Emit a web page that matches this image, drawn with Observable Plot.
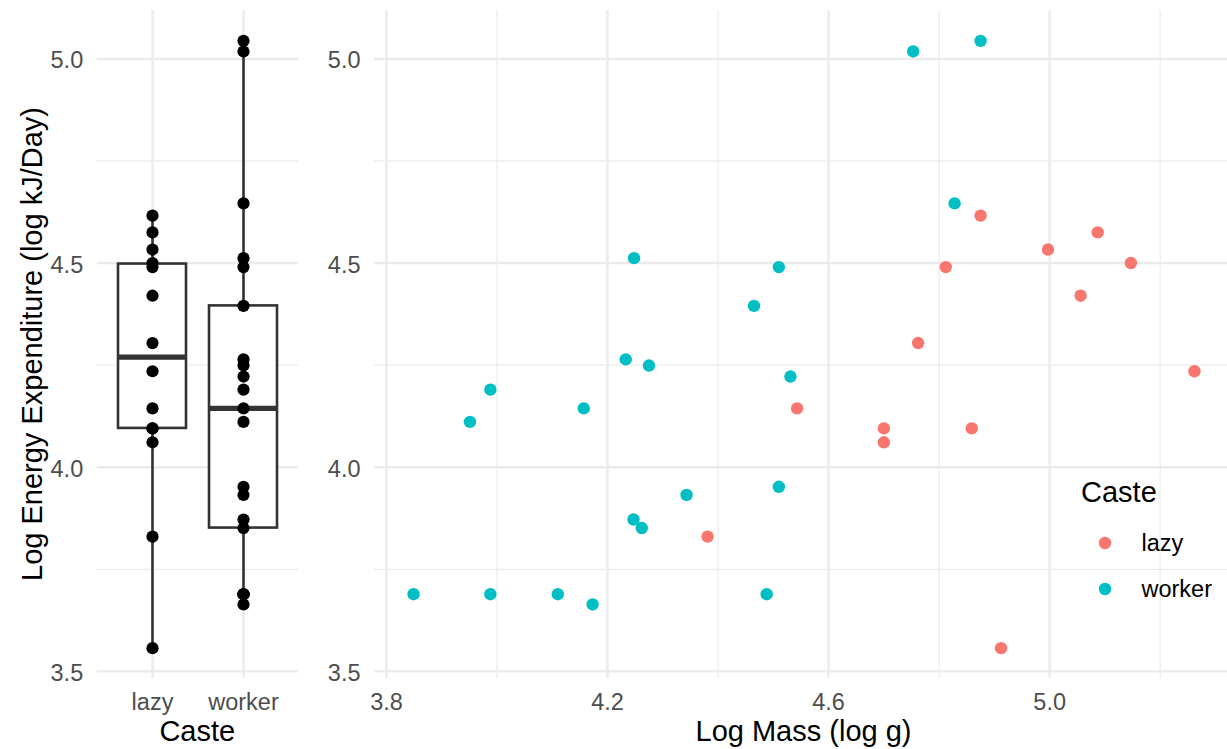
<!DOCTYPE html>
<html><head><meta charset="utf-8">
<script src="https://cdn.jsdelivr.net/npm/d3@7"></script>
<script src="https://cdn.jsdelivr.net/npm/@observablehq/plot@0.6"></script>
<style>
html,body{margin:0;padding:0;background:#fff;overflow:hidden}
#wrap{position:relative;width:1227px;height:749px;overflow:hidden;font-family:"Liberation Sans",Arial,sans-serif;background:#fff}
#wrap > svg{position:absolute;top:0}
</style></head><body><div id="wrap"></div>
<script>
// ---- data ----
const casteLevels = ["lazy", "worker"];
const casteColors = ["#F8766D", "#00BFC4"];
const caste = [
  "lazy","lazy","lazy","lazy","lazy","lazy","lazy","lazy","lazy","lazy","lazy","lazy","lazy","lazy",
  "worker","worker","worker","worker","worker","worker","worker","worker","worker","worker","worker",
  "worker","worker","worker","worker","worker","worker","worker","worker","worker","worker"
];
const logMass = [
  4.381, 4.875, 5.087, 4.997, 4.812, 5.147, 5.056, 4.762, 5.262, 4.543, 4.700, 4.700, 4.859, 4.912,
  4.248, 4.465, 4.233, 4.275, 3.988, 3.951, 4.157, 4.343, 4.247, 4.262, 3.849,
  3.988, 4.110, 4.173, 4.753, 4.875, 4.828, 4.510, 4.531, 4.510, 4.488
];
const logEnergy = [
  3.830, 4.616, 4.575, 4.533, 4.490, 4.500, 4.420, 4.304, 4.235, 4.144, 4.095, 4.061, 4.095, 3.557,
  4.512, 4.395, 4.264, 4.249, 4.190, 4.111, 4.144, 3.932, 3.872, 3.851, 3.689,
  3.689, 3.689, 3.664, 5.018, 5.044, 4.646, 4.490, 4.222, 3.952, 3.689
];
const yTicks = [3.5, 4.0, 4.5, 5.0];
const yMinor = [3.75, 4.25, 4.75];
const xTicks = [3.8, 4.2, 4.6, 5.0];
const xMinor = [4.0, 4.4, 4.8, 5.2];
const yTitle = "Log Energy Expenditure (log kJ/Day)";
const xTitleLeft = "Caste";
const xTitleRight = "Log Mass (log g)";
const legendTitle = "Caste";

// ---- derived ----
const rows = caste.map((c, i) => ({caste: c, mass: logMass[i], energy: logEnergy[i]}));
const expand = ([a, b]) => [a - 0.05 * (b - a), b + 0.05 * (b - a)];
const yDomain = expand(d3.extent(logEnergy));
const xDomain = expand(d3.extent(logMass));
const stats = casteLevels.map(c => {
  const v = rows.filter(r => r.caste === c).map(r => r.energy).sort(d3.ascending);
  const q1 = d3.quantile(v, 0.25), median = d3.quantile(v, 0.5), q3 = d3.quantile(v, 0.75);
  const iqr = q3 - q1;
  const lo = d3.min(v.filter(x => x >= q1 - 1.5 * iqr));
  const hi = d3.max(v.filter(x => x <= q3 + 1.5 * iqr));
  return {caste: c, q1, median, q3, lo, hi};
});

const FONT = '"Liberation Sans", Arial, sans-serif';
const GRID = "#EBEBEB";
const TICK_FS = 23.5;
const fmt = d3.format(".1f");
const common = {
  height: 749, marginTop: 10, marginBottom: 71,
  style: {fontFamily: FONT, fontSize: TICK_FS + "px", color: "#4D4D4D", background: "transparent", overflow: "visible"}
};

const left = Plot.plot({
  ...common,
  width: 300, marginLeft: 96.7, marginRight: 2,
  x: {type: "band", domain: casteLevels, paddingInner: 0.25, paddingOuter: 0.225, align: 0.5},
  y: {domain: yDomain},
  marks: [
    Plot.ruleY(yMinor, {stroke: GRID, strokeWidth: 1.2}),
    Plot.ruleY(yTicks, {stroke: GRID, strokeWidth: 2.4}),
    Plot.ruleX(casteLevels, {x: d => d, stroke: GRID, strokeWidth: 2.4}),
    Plot.axisY({ticks: yTicks, tickFormat: fmt, tickSize: 0, tickPadding: 14, label: null, fontSize: TICK_FS, dy: 2}),
    Plot.axisX({tickSize: 0, tickPadding: 14.6, label: null, fontSize: TICK_FS}),
    Plot.ruleX(stats, {x: "caste", y1: "lo", y2: "hi", stroke: "#333333", strokeWidth: 2.6}),
    Plot.barY(stats, {x: "caste", y1: "q1", y2: "q3", fill: "white", stroke: "#333333", strokeWidth: 2.6}),
    Plot.tickY(stats, {x: "caste", y: "median", stroke: "#333333", strokeWidth: 5.2}),
    Plot.dot(rows, {x: "caste", y: "energy", r: 6.1, fill: "black"})
  ]
});
left.style.left = "0px";

const right = Plot.plot({
  ...common,
  width: 933, marginLeft: 74, marginRight: 0,
  x: {domain: xDomain},
  y: {domain: yDomain},
  color: {domain: casteLevels, range: casteColors},
  marks: [
    Plot.ruleY(yMinor, {stroke: GRID, strokeWidth: 1.2}),
    Plot.ruleY(yTicks, {stroke: GRID, strokeWidth: 2.4}),
    Plot.ruleX(xMinor, {stroke: GRID, strokeWidth: 1.2}),
    Plot.ruleX(xTicks, {stroke: GRID, strokeWidth: 2.4}),
    Plot.axisY({ticks: yTicks, tickFormat: fmt, tickSize: 0, tickPadding: 14, label: null, fontSize: TICK_FS, dy: 2}),
    Plot.axisX({ticks: xTicks, tickFormat: fmt, tickSize: 0, tickPadding: 14.6, label: null, fontSize: TICK_FS}),
    Plot.dot(rows, {x: "mass", y: "energy", fill: "caste", r: 6.2})
  ]
});
right.style.left = "300px";

const wrap = document.getElementById("wrap");
wrap.appendChild(left);
wrap.appendChild(right);

// ---- titles and legend overlay ----
const ov = d3.select(wrap).append("svg")
  .attr("width", 1227).attr("height", 749)
  .style("left", "0px").style("pointer-events", "none")
  .attr("font-family", FONT);
ov.append("text").attr("transform", "translate(42,344) rotate(-90)")
  .attr("text-anchor", "middle").attr("font-size", 29).attr("fill", "#000").text(yTitle);
ov.append("text").attr("x", 197.3).attr("y", 741).attr("text-anchor", "middle")
  .attr("font-size", 29).attr("fill", "#000").text(xTitleLeft);
ov.append("text").attr("x", 803.5).attr("y", 741).attr("text-anchor", "middle")
  .attr("font-size", 29).attr("fill", "#000").text(xTitleRight);
const lg = ov.append("g").attr("transform", "translate(1081,502)");
lg.append("text").attr("font-size", 29).attr("fill", "#000").text(legendTitle);
const item = lg.selectAll("g.item").data(casteLevels).join("g")
  .attr("transform", (d, i) => `translate(0,${41 + i * 46})`);
item.append("circle").attr("cx", 24).attr("r", 6.2).attr("fill", (d, i) => casteColors[i]);
item.append("text").attr("x", 60.5).attr("dy", "0.36em").attr("font-size", TICK_FS).attr("fill", "#000").text(d => d);
</script></body></html>
